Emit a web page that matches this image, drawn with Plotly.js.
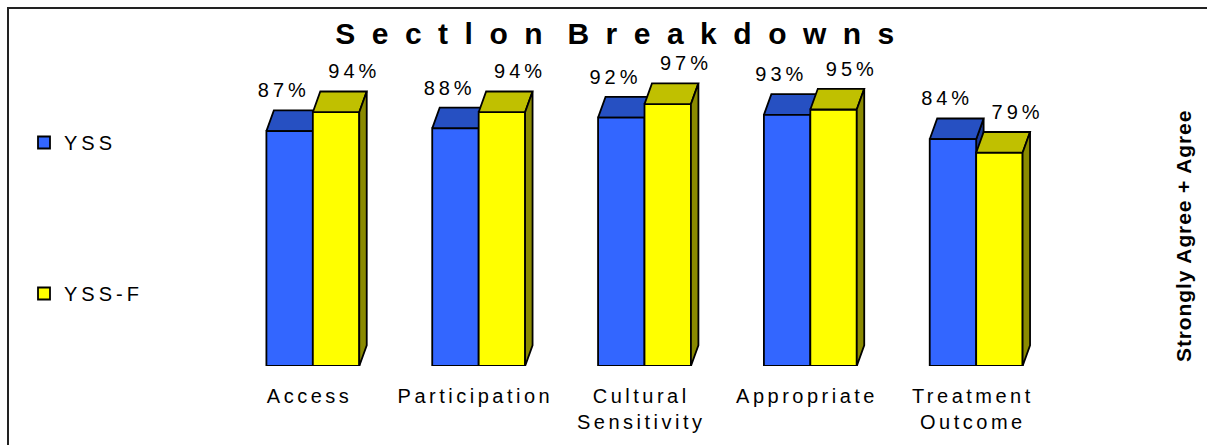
<!DOCTYPE html>
<html>
<head>
<meta charset="utf-8">
<script src="https://cdn.plot.ly/plotly-3.0.1.min.js"></script>
<style>
  html, body { margin:0; padding:0; background:#fff; }
  #wrap { position:relative; width:1207px; height:445px; overflow:hidden; }
  #chart { position:absolute; left:0; top:0; width:1207px; height:445px; }
  #frame { position:absolute; left:7px; top:7px; width:1210px; height:450px;
           border-left:2px solid #222; border-top:2px solid #222; pointer-events:none; }
</style>
</head>
<body>
<div id="wrap">
  <div id="chart"></div>
  <div id="frame"></div>
</div>
<script>
// ---- data ----
const categories = ['Access', 'Participation', 'Cultural<br>Sensitivity', 'Appropriate', 'Treatment<br>Outcome'];
const seriesNames = ['YSS', 'YSS-F'];
const yss  = [0.87, 0.88, 0.92, 0.93, 0.84];
const yssF = [0.94, 0.94, 0.97, 0.95, 0.79];
const titleText = 'Sectlon Breakdowns';
const axisTitle = 'Strongly Agree + Agree';

// ---- styling / geometry (not data) ----
const W = 0.28;          // bar width (category units)
const DX = 0.045;        // 3D depth offset x
const DY = 0.0767;       // 3D depth offset y
const LIFT = 0.144;      // label height above front top
const FONT = 'Liberation Sans, Arial, Helvetica, sans-serif';
const colors = {
  blue:   {front:'#3366FF', top:'#2650C2', side:'#1A3A99'},
  yellow: {front:'#FFFF00', top:'#C0C000', side:'#8A8A00'}
};
// letter-spaced text (each line / word wrapped in a styled span)
const sp = (txt, s, sep) => txt.split(sep || '<br>')
  .map(t => `<span style="letter-spacing:${s}px">${t}</span>`).join(sep || '<br>');

function polys(values, xoff, kind) {
  const xs = [], ys = [];
  values.forEach((v, i) => {
    const l = i + xoff, r = l + W;
    let pts;
    if (kind === 'front') pts = [[l,0],[r,0],[r,v],[l,v]];
    else if (kind === 'top') pts = [[l,v],[r,v],[r+DX,v+DY],[l+DX,v+DY]];
    else pts = [[r,0],[r+DX,DY],[r+DX,v+DY],[r,v]];
    pts.push(pts[0]);
    pts.forEach(p => { xs.push(p[0]); ys.push(p[1]); });
    xs.push(null); ys.push(null);
  });
  return {xs, ys};
}

function face(values, xoff, kind, color) {
  const p = polys(values, xoff, kind);
  return {
    type:'scatter', mode:'lines', x:p.xs, y:p.ys, fill:'toself', fillcolor:color,
    line:{color:'#000', width:1.8}, hoverinfo:'skip', showlegend:false
  };
}

const traces = [];
// legend-only entries
traces.push({type:'bar', x:[null], y:[null], name:sp(seriesNames[0], 4), legendgroup:'a',
  marker:{color:colors.blue.front, line:{color:'#000', width:1.8}}, hoverinfo:'skip'});
traces.push({type:'bar', x:[null], y:[null], name:sp(seriesNames[1], 4), legendgroup:'b',
  marker:{color:colors.yellow.front, line:{color:'#000', width:1.8}}, hoverinfo:'skip'});

// blue bars (left of each category centre)
traces.push(face(yss, -W, 'side', colors.blue.side));
traces.push(face(yss, -W, 'top', colors.blue.top));
traces.push(face(yss, -W, 'front', colors.blue.front));
// yellow bars (right of each category centre)
traces.push(face(yssF, 0, 'front', colors.yellow.front));
traces.push(face(yssF, 0, 'top', colors.yellow.top));
traces.push(face(yssF, 0, 'side', colors.yellow.side));

// value labels
function labels(values, xoff) {
  return {
    type:'scatter', mode:'text',
    x: values.map((v, i) => i + xoff),
    y: values.map(v => v + LIFT),
    text: values.map(v => sp(Math.round(v * 100) + '%', 4)),
    textposition:'middle center',
    textfont:{family:FONT, size:20, color:'#000'},
    cliponaxis:false, hoverinfo:'skip', showlegend:false
  };
}
traces.push(labels(yss, -W/2 - 0.035));
traces.push(labels(yssF, W/2 + 0.11));

const L = 147, R = 65, T = 42, B = 79;
const PW = 1207 - L - R, PH = 445 - T - B;

const layout = {
  width:1207, height:445,
  margin:{l:L, r:R, t:T, b:B, pad:0},
  paper_bgcolor:'#fff', plot_bgcolor:'#fff',
  font:{family:FONT, color:'#000'},
  showlegend:true,
  title:{
    text: sp(titleText, 16.5, ' '),
    font:{family:FONT, size:30, weight:'bold', color:'#000'},
    xref:'container', yref:'container',
    x:(615 + 8) / 1207, xanchor:'center',
    y:1 - 33 / 445, yanchor:'middle'
  },
  xaxis:{
    range:[-1, 5], fixedrange:true,
    tickvals: categories.map((c, i) => i - 0.02),
    ticktext: categories.map(c => sp(c, 3.5)),
    showgrid:false, zeroline:false, showline:false, ticks:'',
    tickfont:{family:FONT, size:20, color:'#000'},
    ticklabelstandoff:16
  },
  yaxis:{range:[0, 1.2], visible:false, fixedrange:true},
  legend:{
    x:(24 - L) / PW, xanchor:'left',
    y:(366 - 123) / PH, yanchor:'top',
    font:{family:FONT, size:20, color:'#000'},
    tracegroupgap:122, bgcolor:'rgba(0,0,0,0)', borderwidth:0
  },
  annotations:[{
    text: sp(axisTitle, 0.9),
    xref:'paper', yref:'paper',
    x:(1183 - L) / PW, y:(366 - 236) / PH,
    xanchor:'center', yanchor:'middle',
    textangle:-90, showarrow:false,
    font:{family:FONT, size:21, weight:'bold', color:'#000'}
  }]
};

Plotly.newPlot('chart', traces, layout, {displayModeBar:false, staticPlot:true});
</script>
</body>
</html>
